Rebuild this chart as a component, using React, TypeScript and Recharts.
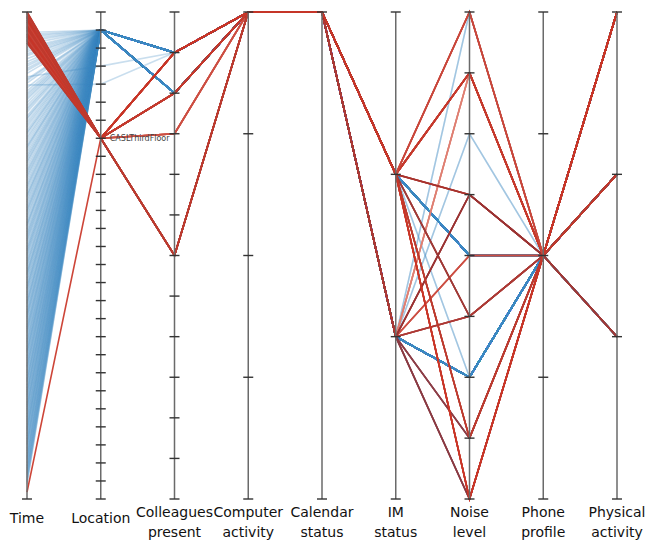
import React from 'react';
import { ComposedChart, Line, Scatter, XAxis, YAxis, ReferenceLine, ReferenceDot } from 'recharts';

// ---- dimensions ----
const dimLabels: string[][] = [
  ['Time'], ['Location'], ['Colleagues', 'present'], ['Computer', 'activity'],
  ['Calendar', 'status'], ['IM', 'status'], ['Noise', 'level'], ['Phone', 'profile'], ['Physical', 'activity'],
];
// number of categorical levels (ticks) on each axis; Time is continuous (top/bottom ticks only)
const levelCounts = [2, 28, 13, 5, 2, 4, 9, 5, 4];
const TIME_MAX = 100;
const locationLabel = 'CASLThirdFloor';
const locationLabelLevel = 7;

// ---- highlighted (red) records: level indices for Location..Physical (0 = top) ----
const redPaths: number[][] = [
  [7, 1, 0, 0, 1, 1, 2, 0],
  [7, 2, 0, 0, 1, 1, 2, 1],
  [7, 1, 0, 0, 1, 0, 2, 0],
  [7, 2, 0, 0, 1, 3, 2, 1],
  [7, 6, 0, 0, 1, 5, 2, 2],
  [7, 1, 0, 0, 1, 8, 2, 0],
  [7, 6, 0, 0, 1, 7, 2, 1],
  [7, 3, 0, 0, 2, 1, 2, 2],
  [7, 2, 0, 0, 2, 3, 2, 0],
  [7, 2, 0, 0, 2, 5, 2, 1],
  [7, 1, 0, 0, 2, 7, 2, 2],
  [7, 6, 0, 0, 2, 8, 2, 0],
  [7, 3, 0, 0, 2, 4, 2, 1],
];
const redPathColors = [
  '#c4352a', '#c63a2c', '#c9473b', '#a8322d', '#a03a36', '#c93527', '#bd3b2f',
  '#de7f72', '#9a3232', '#ad3a35', '#8c3d47', '#8a3a42', '#cc4e42',
];
// [time, path] — drawn in this order
const redRecords: [number, number][] = [
  [0.3, 7], [2.9, 7], [5.5, 7],
  [0.8, 12], [3.4, 12], [6.0, 12],
  [1.3, 10], [3.9, 10], [6.3, 10],
  [0.05, 11], [1.8, 11], [4.4, 11],
  [1.55, 3], [2.3, 3], [4.9, 3],
  [0.55, 4], [2.6, 4], [5.2, 4],
  [1.05, 8], [3.65, 8], [5.75, 8],
  [2.05, 9], [3.15, 9], [4.65, 9],
  [0.0, 0], [1.6, 0], [3.2, 0], [4.8, 0],
  [0.4, 1], [2.0, 1], [3.6, 1], [5.2, 1],
  [0.8, 2], [2.4, 2], [4.0, 2], [5.6, 2],
  [1.2, 5], [2.8, 5], [4.4, 5], [6.0, 5],
  [0.2, 6], [1.0, 6], [3.0, 6], [6.4, 6],
  [98.6, 5],
];

// ---- other (blue) records ----
const bluePaths: number[][] = [
  [1, 2, 0, 0, 1, 4, 2, 0],
  [1, 1, 0, 0, 2, 6, 2, 1],
  [1, 2, 0, 0, 2, 6, 2, 2],
  [1, 1, 0, 0, 1, 4, 2, 1],
  [1, 2, 0, 0, 2, 0, 2, 0],
  [1, 1, 0, 0, 2, 2, 2, 1],
  [1, 2, 0, 0, 1, 6, 2, 2],
  [3, 1, 0, 0, 1, 4, 2, 0],
  [4, 1, 0, 0, 2, 6, 2, 0],
];
const blueRecords: [number, number][] = [
  [4.2, 0], [5.1, 1], [6.0, 2], [7.3, 3], [8.1, 0], [9.0, 4], [10.2, 1], [11.1, 2], [12.0, 3],
  [13.3, 7], [14.1, 0], [15.0, 8], [16.2, 1], [17.1, 2], [18.0, 3], [19.2, 0], [20.1, 5], [21.3, 1],
  [22.0, 2], [23.1, 3], [24.2, 0], [25.0, 1], [26.1, 2], [27.3, 3], [28.0, 0], [29.2, 6], [30.1, 1],
  [31.0, 2], [32.2, 3], [33.1, 0], [34.0, 1], [35.2, 2], [36.1, 3], [37.3, 0], [38.0, 1], [39.1, 2],
  [40.2, 3], [41.0, 0], [42.1, 1], [43.3, 2], [44.0, 3], [45.2, 0], [46.1, 1], [47.0, 2], [48.2, 3],
  [49.1, 0], [50.0, 1], [51.2, 2], [52.1, 3], [53.3, 0], [54.0, 1], [55.1, 2], [56.2, 3], [57.0, 0],
  [58.1, 1], [59.3, 2], [60.0, 3], [61.2, 0], [62.1, 1], [63.0, 2], [64.2, 3], [65.1, 0], [66.0, 1],
  [67.2, 2], [68.1, 3], [69.3, 0], [70.0, 1], [71.1, 2], [72.2, 3], [73.0, 0], [74.1, 1], [75.3, 2],
  [76.0, 3], [77.2, 0], [78.1, 1], [79.0, 2], [80.2, 3], [81.1, 0], [82.0, 1], [83.2, 2], [84.1, 3],
  [85.3, 0], [86.0, 1], [87.1, 2], [88.2, 3], [89.0, 0], [90.1, 1], [91.3, 2], [92.0, 3], [93.2, 0],
  [94.1, 1], [95.0, 2], [96.2, 3], [97.0, 0],
];
const blueRecordsB: [number, number][] = [
  [4.7, 1], [5.6, 2], [6.6, 3], [7.7, 0], [8.6, 1], [9.6, 2], [10.7, 3], [11.6, 0], [12.6, 1],
  [13.8, 2], [14.6, 3], [15.6, 0], [16.7, 4], [17.6, 1], [18.6, 2], [19.7, 3], [20.6, 0], [21.7, 1],
  [22.6, 2], [23.6, 3], [24.7, 5], [25.6, 0], [26.7, 1], [27.7, 2], [28.6, 3], [29.7, 0], [30.6, 1],
  [31.6, 6], [32.7, 2], [33.6, 3], [34.6, 0], [35.7, 1], [36.7, 2], [37.7, 3], [38.6, 0], [39.7, 1],
  [40.7, 2], [41.6, 3], [42.7, 0], [43.7, 1], [44.6, 2], [45.7, 3], [46.6, 0], [47.6, 1], [48.7, 2],
  [49.6, 3], [50.6, 0], [51.7, 1], [52.7, 2], [53.7, 3], [54.6, 0], [55.7, 1], [56.7, 2], [57.6, 3],
  [58.7, 0], [59.7, 1], [60.6, 2], [61.7, 3], [62.6, 0], [63.6, 1], [64.7, 2], [65.6, 3], [66.6, 0],
  [67.7, 1], [68.7, 2], [69.7, 3], [70.6, 0], [71.6, 1], [72.7, 2], [73.6, 3], [74.7, 0], [75.7, 1],
  [76.6, 2], [77.7, 3], [78.6, 0], [79.6, 1], [80.7, 2], [81.6, 3], [82.6, 0], [83.7, 1], [84.7, 2],
  [85.7, 3], [86.6, 0], [87.7, 1], [88.7, 2], [89.6, 3], [90.7, 0], [91.7, 1], [92.6, 2], [93.7, 3],
  [94.6, 0], [95.6, 1], [96.6, 2],
];

const BLUE = '#3d87c2';

type Rec = { time: number; path: number[]; color: string; opacity: number; width: number };
const records: Rec[] = [
  ...[...blueRecords, ...blueRecordsB].map(([t, p]) => ({ time: t, path: bluePaths[p], color: BLUE, opacity: 0.28, width: 1.6 })),
  ...redRecords.map(([t, p]) => ({ time: t, path: redPaths[p], color: redPathColors[p], opacity: 0.92, width: 1.6 })),
];

const chartData = dimLabels.map((_, i) => {
  const row: Record<string, number> = { x: i };
  records.forEach((r, k) => {
    row['r' + k] = i === 0 ? r.time / TIME_MAX : r.path[i - 1] / (levelCounts[i] - 1);
  });
  return row;
});

const tickData = levelCounts.flatMap((n, i) =>
  Array.from({ length: n }, (_, k) => ({ x: i, v: k / (n - 1) }))
);

const axisIdx = dimLabels.map((_, i) => i);

const TickMark = (props: any) => {
  const { cx, cy } = props;
  return <line x1={cx - 5} x2={cx + 5} y1={cy} y2={cy} stroke="#333" strokeWidth={1.4} />;
};

const AxisLabel = (props: any) => {
  const { x, y, payload } = props;
  const lines = dimLabels[payload.value] || [];
  const font = { fontFamily: 'DejaVu Sans', fontSize: 14, fill: '#111' };
  if (lines.length === 1) {
    return (
      <text x={x} y={y + 24} textAnchor="middle" {...font}>{lines[0]}</text>
    );
  }
  return (
    <text x={x} y={y + 18} textAnchor="middle" {...font}>
      <tspan x={x} dy={0}>{lines[0]}</tspan>
      <tspan x={x} dy={20}>{lines[1]}</tspan>
    </text>
  );
};

export default function App() {
  return (
    <div style={{ position: 'absolute', left: 0, top: 0, width: 646, height: 541, background: '#fff' }}>
      <ComposedChart
        width={646}
        height={541}
        data={chartData}
        margin={{ top: 12, right: 29, bottom: 12, left: 27 }}
      >
        <XAxis
          dataKey="x"
          type="number"
          domain={[0, 8]}
          ticks={axisIdx}
          interval={0}
          axisLine={false}
          tickLine={false}
          tickSize={0}
          tickMargin={0}
          height={30}
          tick={<AxisLabel />}
        />
        <YAxis type="number" domain={[0, 1]} reversed hide />
        {records.map((r, k) => (
          <Line
            key={'r' + k}
            dataKey={'r' + k}
            type="linear"
            stroke={r.color}
            strokeOpacity={r.opacity}
            strokeWidth={r.width}
            dot={false}
            activeDot={false}
            isAnimationActive={false}
          />
        ))}
        {axisIdx.map((i) => (
          <ReferenceLine key={'ax' + i} x={i} stroke="#6a6a6a" strokeWidth={1.5} />
        ))}
        <Scatter data={tickData} dataKey="v" shape={<TickMark />} isAnimationActive={false} />
        <ReferenceDot
          x={1}
          y={locationLabelLevel / (levelCounts[1] - 1)}
          r={0}
          label={{ value: locationLabel, position: 'right', offset: 9, fontSize: 8, fill: '#444', fontFamily: 'DejaVu Sans' }}
        />
      </ComposedChart>
    </div>
  );
}
